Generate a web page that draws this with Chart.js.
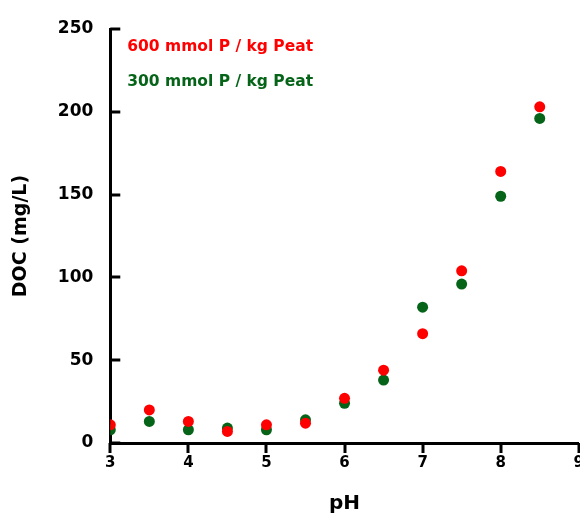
<!DOCTYPE html>
<html>
<head>
<meta charset="utf-8">
<script src="https://cdn.jsdelivr.net/npm/chart.js@4/dist/chart.umd.min.js"></script>
<style>
  html, body { margin: 0; padding: 0; background: #fff; overflow: hidden; }
  #wrap { width: 587px; height: 513px; }
</style>
</head>
<body>
<div id="wrap"><canvas id="doc-chart"></canvas></div>
<script>
// pH values (x) and DOC readings (mg/L)
const pH = [3, 3.5, 4, 4.5, 5, 5.5, 6, 6.5, 7, 7.5, 8, 8.5];
const doc600 = [11, 20, 13, 7, 11, 12, 27, 44, 66, 104, 164, 203];
const doc300 = [8, 13, 8, 9, 8, 14, 24, 38, 82, 96, 149, 196];
const seriesNames = ['600 mmol P / kg Peat', '300 mmol P / kg Peat'];
const seriesColors = ['#ff0000', '#066419'];
const xTicks = [3, 4, 5, 6, 7, 8, 9];
const yTicks = [0, 50, 100, 150, 200, 250];

const fontFamily = '"DejaVu Sans", Verdana, sans-serif';

// text-only legend in the upper left of the plot
const legendText = {
  id: 'legendText',
  afterDraw(chart) {
    const ctx = chart.ctx;
    const area = chart.chartArea;
    ctx.save();
    ctx.font = 'bold 15.5px ' + fontFamily;
    ctx.textBaseline = 'middle';
    chart.data.datasets.forEach((ds, i) => {
      ctx.fillStyle = ds.backgroundColor;
      ctx.fillText(ds.label, area.left + 17, area.top + 18 + i * 35);
    });
    ctx.restore();
  }
};

// tick marks: y ticks point into the plot, x ticks point down
const tickMarks = {
  id: 'tickMarks',
  afterDraw(chart) {
    const ctx = chart.ctx;
    const xScale = chart.scales.x, yScale = chart.scales.y;
    const area = chart.chartArea;
    ctx.save();
    ctx.strokeStyle = '#000';
    ctx.lineWidth = 3;
    xTicks.forEach(v => {
      const px = Math.round(xScale.getPixelForValue(v));
      ctx.beginPath();
      ctx.moveTo(px, area.bottom);
      ctx.lineTo(px, area.bottom + 10);
      ctx.stroke();
    });
    yTicks.forEach(v => {
      const py = Math.round(yScale.getPixelForValue(v));
      ctx.beginPath();
      ctx.moveTo(area.left, py);
      ctx.lineTo(area.left + 10, py);
      ctx.stroke();
    });
    ctx.restore();
  }
};

const toPoints = ys => pH.map((x, i) => ({ x: x, y: ys[i] }));

new Chart(document.getElementById('doc-chart'), {
  type: 'scatter',
  data: {
    datasets: [
      {
        label: seriesNames[0],
        data: toPoints(doc600),
        backgroundColor: seriesColors[0],
        borderWidth: 0,
        pointRadius: 5.5
      },
      {
        label: seriesNames[1],
        data: toPoints(doc300),
        backgroundColor: seriesColors[1],
        borderWidth: 0,
        pointRadius: 5.5
      }
    ]
  },
  options: {
    responsive: true,
    maintainAspectRatio: false,
    animation: false,
    layout: { padding: { top: 29, left: 10, bottom: 0 } },
    plugins: {
      legend: { display: false },
      tooltip: { enabled: false }
    },
    scales: {
      x: {
        type: 'linear',
        min: 3,
        max: 9,
        afterBuildTicks: s => { s.ticks = xTicks.map(v => ({ value: v })); },
        border: { display: true, color: '#000', width: 3 },
        grid: { display: false },
        ticks: { color: '#000', font: { family: fontFamily, size: 15, weight: 'bold' }, padding: 3 },
        title: {
          display: true,
          text: 'pH',
          color: '#000',
          font: { family: fontFamily, size: 20, weight: 'bold' },
          padding: { top: 17, bottom: -3 }
        }
      },
      y: {
        min: 0,
        max: 250,
        afterBuildTicks: s => { s.ticks = yTicks.map(v => ({ value: v })); },
        border: { display: true, color: '#000', width: 3 },
        grid: { display: false },
        ticks: { color: '#000', font: { family: fontFamily, size: 17, weight: 'bold' }, padding: 9 },
        title: {
          display: true,
          text: 'DOC (mg/L)',
          color: '#000',
          font: { family: fontFamily, size: 19, weight: 'bold' },
          padding: { top: 0, bottom: 16 }
        }
      }
    }
  },
  plugins: [legendText, tickMarks]
});
</script>
</body>
</html>
